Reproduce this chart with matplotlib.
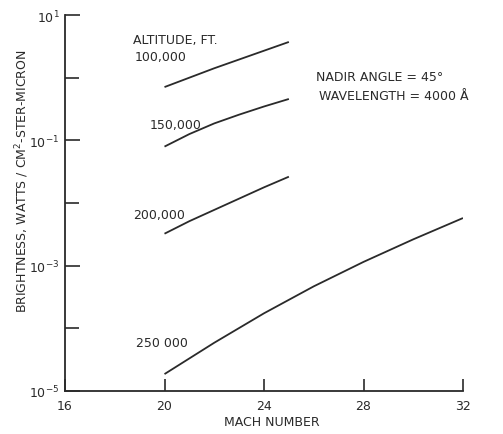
import numpy as np
import matplotlib
matplotlib.use("Agg")
import matplotlib.pyplot as plt
from matplotlib.ticker import FixedLocator, NullFormatter

# Mach number samples for each altitude curve
mach_short = [20, 21, 22, 23, 24, 25]
mach_long = [20, 22, 24, 26, 28, 30, 32]

# brightness (log10 values)
log_100k = [-0.15, 0.00, 0.15, 0.29, 0.43, 0.57]
log_150k = [-1.10, -0.90, -0.73, -0.59, -0.46, -0.34]
log_200k = [-2.49, -2.29, -2.11, -1.93, -1.75, -1.58]
log_250k = [-4.73, -4.23, -3.76, -3.33, -2.94, -2.58, -2.24]

x_ticks = [16, 20, 24, 28, 32]
y_major = [1e1, 1e-1, 1e-3, 1e-5]
y_major_labels = [r"$10^{1}$", r"$10^{-1}$", r"$10^{-3}$", r"$10^{-5}$"]
y_minor = [1e0, 1e-2, 1e-4]

ink = "#2a2a2a"
plt.rcParams["font.family"] = ["DejaVu Sans"]

fig = plt.figure(figsize=(5.03, 4.35), dpi=100)
ax = fig.add_axes([65 / 503, 1 - 392 / 435, 398 / 503, 376 / 435])

curves = [(mach_short, log_100k), (mach_short, log_150k),
          (mach_short, log_200k), (mach_long, log_250k)]
for mx, ly in curves:
    ax.plot(mx, 10 ** np.array(ly), color=ink, lw=1.3, solid_capstyle="butt",
            solid_joinstyle="round")

ax.set_yscale("log")
ax.set_xlim(16, 32)
ax.set_ylim(1e-5, 1e1)

ax.set_xticks(x_ticks)
ax.set_xticklabels([str(t) for t in x_ticks])
ax.yaxis.set_major_locator(FixedLocator(y_major))
ax.set_yticklabels(y_major_labels)
ax.yaxis.set_minor_locator(FixedLocator(y_minor))
ax.yaxis.set_minor_formatter(NullFormatter())

ax.tick_params(axis="both", which="both", direction="in", colors=ink,
               width=1.2, labelsize=9, labelcolor=ink)
ax.tick_params(axis="y", which="major", length=11, pad=4)
ax.tick_params(axis="y", which="minor", length=10)
ax.tick_params(axis="x", which="major", length=9, pad=6)

for side in ["top", "right"]:
    ax.spines[side].set_visible(False)
for side in ["left", "bottom"]:
    ax.spines[side].set_color(ink)
    ax.spines[side].set_linewidth(1.3)

# curve labels
txt = dict(color=ink, fontsize=9, va="center", ha="left")
ax.text(18.73, 4.1, "ALTITUDE, FT.", **txt)
ax.text(18.81, 2.14, "100,000", **txt)
ax.text(19.42, 0.18, "150,000", **txt)
ax.text(18.73, 6.5e-3, "200,000", **txt)
ax.text(18.85, 5.9e-5, "250 000", **txt)
ax.text(26.09, 1.06, "NADIR ANGLE = 45°", **txt)
ax.text(26.21, 0.51, "WAVELENGTH = 4000 Å", **txt)

fig.text(272 / 503, 1 - 423 / 435, "MACH NUMBER", color=ink, fontsize=9,
         ha="center", va="center")
fig.text(22 / 503, 1 - 181 / 435, "BRIGHTNESS, WATTS / CM$^{2}$-STER-MICRON",
         color=ink, fontsize=9, ha="center", va="center", rotation=90)

fig.savefig("out.png", dpi=100, facecolor="white")
